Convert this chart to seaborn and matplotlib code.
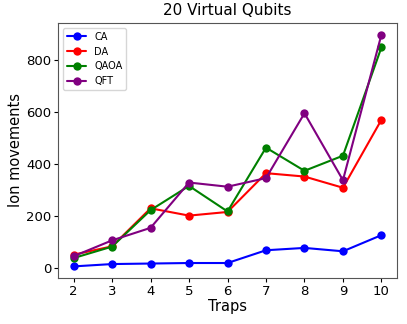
import matplotlib
matplotlib.use('Agg')
import matplotlib.pyplot as plt
import seaborn as sns
import pandas as pd

traps = [2, 3, 4, 5, 6, 7, 8, 9, 10]
ca = [6, 15, 17, 19, 19, 68, 77, 64, 126]
da = [51, 83, 229, 201, 215, 364, 351, 308, 569]
qaoa = [38, 82, 222, 315, 217, 462, 373, 431, 847]
qft = [45, 106, 154, 328, 312, 345, 594, 337, 896]

names = ['CA', 'DA', 'QAOA', 'QFT']
colors = ['blue', 'red', 'green', 'purple']

rows = []
for name, vals in zip(names, [ca, da, qaoa, qft]):
  for t, v in zip(traps, vals):
    rows.append({'Traps': t, 'Ion movements': v, 'Algorithm': name})
df = pd.DataFrame(rows)

sns.set_style('white')
plt.rcParams['font.family'] = ['DejaVu Sans']
plt.rcParams['text.color'] = 'black'
plt.rcParams['axes.labelcolor'] = 'black'
plt.rcParams['xtick.color'] = 'black'
plt.rcParams['ytick.color'] = 'black'

fig, ax = plt.subplots(figsize=(4.07, 3.24), dpi=100)
sns.lineplot(data=df, x='Traps', y='Ion movements', hue='Algorithm',
             palette=dict(zip(names, colors)), marker='o', markersize=6,
             markeredgewidth=0, linewidth=1.5, ax=ax)

ax.set_title('20 Virtual Qubits', fontsize=11)
ax.set_xlabel('Traps', fontsize=10.5, labelpad=1)
ax.set_ylabel('Ion movements', fontsize=10.5, labelpad=2)
ax.set_xticks(traps)
ax.tick_params(axis='both', labelsize=9.5, left=True, bottom=True, length=3, pad=2)
for s in ax.spines.values():
  s.set_color('#555555')
ax.legend(loc='upper left', fontsize=7, title=None)

fig.subplots_adjust(left=0.143, right=0.975, top=0.929, bottom=0.142)
fig.savefig('out.png', dpi=100)
